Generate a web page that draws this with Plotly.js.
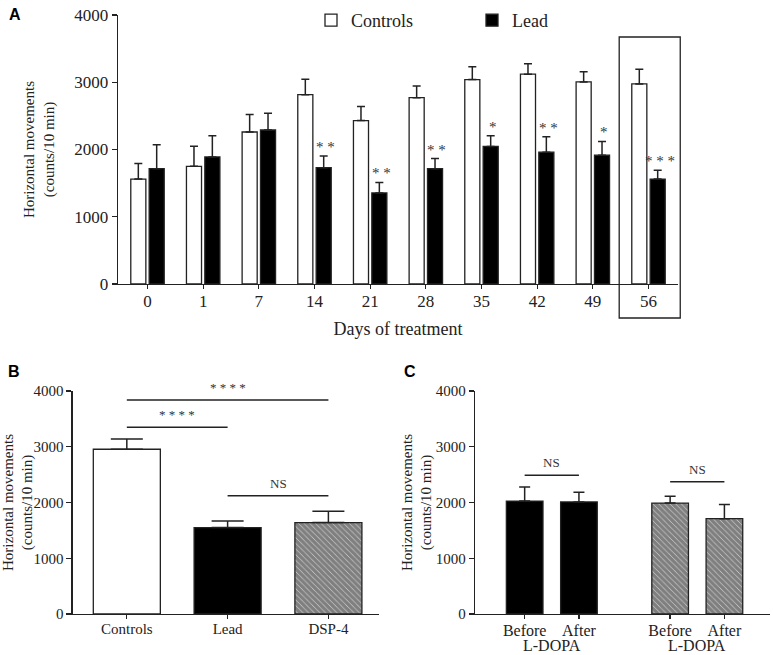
<!DOCTYPE html>
<html>
<head>
<meta charset="utf-8">
<script src="https://cdn.plot.ly/plotly-3.0.1.min.js"></script>
<style>
  html, body { margin: 0; padding: 0; background: #fff; }
  #plot { width: 773px; height: 655px; }
</style>
</head>
<body>
<div id="plot"></div>
<script>
// panel A: days of treatment
const days = ['0', '1', '7', '14', '21', '28', '35', '42', '49', '56'];
const controlsA = [1560, 1750, 2260, 2815, 2430, 2770, 3040, 3120, 3005, 2975];
const controlsErrA = [230, 300, 260, 230, 210, 175, 190, 155, 150, 220];
const leadA = [1715, 1890, 2290, 1730, 1355, 1715, 2045, 1960, 1915, 1560];
const leadErrA = [355, 315, 250, 175, 155, 150, 160, 230, 205, 130];
const starsA = ['', '', '', '* *', '* *', '* *', '*', '* *', '*', '* * *'];

// panel B
const groupsB = ['Controls', 'Lead', 'DSP-4'];
const valuesB = [2955, 1550, 1640];
const errB = [185, 120, 205];
const compB = [
  { from: 0, to: 2, label: '* * * *', y: 3840 },
  { from: 0, to: 1, label: '* * * *', y: 3350 },
  { from: 1, to: 2, label: 'NS', y: 2120 }
];

// panel C: lead group then DSP-4 group, before / after L-DOPA
const timesC = ['Before', 'After'];
const groupC = 'L-DOPA';
const leadC = [2025, 2010];
const leadErrC = [255, 175];
const dspC = [1990, 1710];
const dspErrC = [120, 255];
const nsC = [2490, 2370];

const serif = "'Liberation Serif', 'Times New Roman', serif";
const sans = "'Liberation Sans', Arial, sans-serif";
const ink = '#222';

const W = 773, H = 655;
const px = v => v / W;
const py = v => 1 - v / H;

const upErr = (arr, w) => ({
  type: 'data', array: arr, arrayminus: arr.map(() => 0), symmetric: false,
  color: ink, thickness: 1.5, width: w
});
const hatch = { shape: '\\', fgcolor: '#000', bgcolor: '#fff', size: 4, solidity: 0.9, fillmode: 'overlay' };

const xC = [0, 1, 2.68, 3.68];

const traces = [
  {
    x: days, y: controlsA, name: 'Controls', type: 'bar', xaxis: 'x', yaxis: 'y',
    marker: { color: '#fff', line: { color: ink, width: 1.3 } },
    error_y: upErr(controlsErrA, 4)
  },
  {
    x: days, y: leadA, name: 'Lead', type: 'bar', xaxis: 'x', yaxis: 'y',
    marker: { color: '#000', line: { color: ink, width: 1.3 } },
    error_y: upErr(leadErrA, 4)
  },
  {
    x: groupsB.slice(0, 2), y: valuesB.slice(0, 2), type: 'bar', width: 0.665, showlegend: false,
    xaxis: 'x2', yaxis: 'y2',
    marker: { color: ['#fff', '#000'], line: { color: ink, width: 1.3 } },
    error_y: upErr(errB.slice(0, 2), 16)
  },
  {
    x: groupsB.slice(2), y: valuesB.slice(2), type: 'bar', width: 0.665, showlegend: false,
    xaxis: 'x2', yaxis: 'y2',
    marker: { color: '#fff', line: { color: ink, width: 1.3 }, pattern: hatch },
    error_y: upErr(errB.slice(2), 16)
  },
  {
    x: xC.slice(0, 2), y: leadC, type: 'bar', width: 0.675, showlegend: false,
    xaxis: 'x3', yaxis: 'y3',
    marker: { color: '#000', line: { color: ink, width: 1.3 } },
    error_y: upErr(leadErrC, 5.5)
  },
  {
    x: xC.slice(2), y: dspC, type: 'bar', width: 0.675, showlegend: false,
    xaxis: 'x3', yaxis: 'y3',
    marker: { color: '#fff', line: { color: ink, width: 1.3 }, pattern: hatch },
    error_y: upErr(dspErrC, 5.5)
  }
];

const axisBase = {
  showline: true, linecolor: ink, linewidth: 1.3,
  ticks: 'outside', ticklen: 5, tickwidth: 1.3, tickcolor: ink,
  showgrid: false, zeroline: false, automargin: false,
  tickfont: { family: serif, size: 15, color: ink }
};
const ytitle = standoff => ({
  text: 'Horizontal movements<br>(counts/10 min)',
  font: { family: serif, size: 15, color: ink }, standoff: standoff
});

const letter = (t, x, y) => ({
  text: '<b>' + t + '</b>', x: px(x), y: py(y), xref: 'paper', yref: 'paper',
  xanchor: 'left', yanchor: 'top', showarrow: false,
  font: { family: sans, size: 16, color: '#000' }
});
const annotations = [letter('A', 7, 4), letter('B', 6, 361), letter('C', 402, 361)];
const shapes = [];

// stars over the lead bars
starsA.forEach((s, i) => {
  if (!s) return;
  annotations.push({
    text: s, x: i + 0.2, y: leadA[i] + leadErrA[i], xref: 'x', yref: 'y',
    xanchor: 'center', yanchor: 'bottom', yshift: -1, showarrow: false,
    font: { family: serif, size: 15, color: '#333' }
  });
});

// comparison bars in B
compB.forEach(c => {
  shapes.push({ type: 'line', xref: 'x2', yref: 'y2', x0: c.from, x1: c.to, y0: c.y, y1: c.y,
    line: { color: ink, width: 1.5 } });
  annotations.push({
    text: c.label, x: (c.from + c.to) / 2, y: c.y, xref: 'x2', yref: 'y2',
    xanchor: 'center', yanchor: 'bottom', yshift: 3, showarrow: false,
    font: { family: serif, size: 13, color: '#333' }
  });
});

// NS bars and group labels in C
[0, 1].forEach(g => {
  const a = xC[g * 2], b = xC[g * 2 + 1];
  shapes.push({ type: 'line', xref: 'x3', yref: 'y3', x0: a, x1: b, y0: nsC[g], y1: nsC[g],
    line: { color: ink, width: 1.5 } });
  annotations.push({
    text: 'NS', x: (a + b) / 2, y: nsC[g], xref: 'x3', yref: 'y3',
    xanchor: 'center', yanchor: 'bottom', yshift: 3, showarrow: false,
    font: { family: serif, size: 13, color: '#333' }
  });
  annotations.push({
    text: groupC, x: (a + b) / 2, y: 0, xref: 'x3', yref: 'y3',
    xanchor: 'center', yanchor: 'top', yshift: -21, showarrow: false,
    font: { family: serif, size: 16, color: ink }
  });
});

// box around day 56
shapes.push({ type: 'rect', xref: 'x domain', yref: 'paper', x0: 0.895, x1: 1.004, y0: py(318), y1: py(37),
  line: { color: ink, width: 1.3 }, fillcolor: 'rgba(0,0,0,0)' });

const layout = {
  width: W, height: H,
  margin: { l: 0, r: 0, t: 0, b: 0 },
  paper_bgcolor: '#fff', plot_bgcolor: '#fff',
  barmode: 'group', bargap: 0.34, bargroupgap: 0.18,
  font: { family: serif, color: ink },
  showlegend: true,
  legend: {
    orientation: 'h', x: px(311), y: py(2), xanchor: 'left', yanchor: 'top',
    font: { family: serif, size: 18, color: ink },
    entrywidth: 116, bgcolor: 'rgba(0,0,0,0)'
  },
  xaxis: Object.assign({}, axisBase, {
    domain: [px(118), px(678)], anchor: 'y', type: 'category', range: [-0.53, 9.53],
    tickfont: { family: serif, size: 17, color: ink }, ticklen: 4, ticklabelstandoff: -3,
    title: { text: 'Days of treatment', font: { family: serif, size: 18, color: ink }, standoff: 12 }
  }),
  yaxis: Object.assign({}, axisBase, {
    domain: [py(284), py(15)], anchor: 'x', range: [0, 4000], tickvals: [0, 1000, 2000, 3000, 4000],
    tickfont: { family: serif, size: 17, color: ink },
    title: ytitle(16)
  }),
  xaxis2: Object.assign({}, axisBase, {
    domain: [px(72.7), px(379.3)], anchor: 'y2', type: 'category', range: [-0.537, 2.505],
    ticklen: 4, ticklabelstandoff: -3
  }),
  yaxis2: Object.assign({}, axisBase, {
    domain: [py(614), py(391)], anchor: 'x2', range: [0, 4000], tickvals: [0, 1000, 2000, 3000, 4000],
    title: ytitle(8)
  }),
  xaxis3: Object.assign({}, axisBase, {
    domain: [px(475), px(770)], anchor: 'y3', range: [-0.915, 4.52], ticklen: 4, ticklabelstandoff: -3,
    tickvals: xC, ticktext: xC.map((_, i) => timesC[i % 2]), tickfont: { family: serif, size: 16, color: ink }
  }),
  yaxis3: Object.assign({}, axisBase, {
    domain: [py(614), py(391)], anchor: 'x3', range: [0, 4000], tickvals: [0, 1000, 2000, 3000, 4000],
    title: ytitle(0)
  }),
  annotations: annotations,
  shapes: shapes
};

Plotly.newPlot('plot', traces, layout, { staticPlot: true });
</script>
</body>
</html>
